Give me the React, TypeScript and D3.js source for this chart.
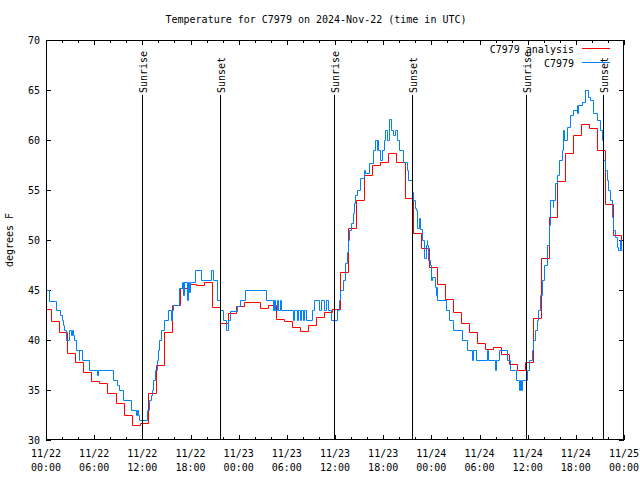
import React from "react";
import * as d3 from "d3";

const TITLE = "Temperature for C7979 on 2024-Nov-22 (time in UTC)";
const Y_LABEL = "degrees F";
const SERIES_NAMES = ["C7979 analysis", "C7979"];

// x ticks (hours since 2024-11-22 00:00 UTC)
const X_TICK_HOURS = [0, 6, 12, 18, 24, 30, 36, 42, 48, 54, 60, 66, 72];
const X_TICK_DATES = ["11/22", "11/22", "11/22", "11/22", "11/23", "11/23", "11/23", "11/23", "11/24", "11/24", "11/24", "11/24", "11/25"];
const X_TICK_TIMES = ["00:00", "06:00", "12:00", "18:00", "00:00", "06:00", "12:00", "18:00", "00:00", "06:00", "12:00", "18:00", "00:00"];
const Y_TICKS = [30, 35, 40, 45, 50, 55, 60, 65, 70];

// sun events (hours)
const EVENT_HOURS = [11.95, 21.65, 35.85, 45.63, 59.75, 69.35];
const EVENT_NAMES = ["Sunrise", "Sunset", "Sunrise", "Sunset", "Sunrise", "Sunset"];

// analysis: hourly values, first valid at hour -0.34
const ANALYSIS_OFFSET = -0.34;
const ANALYSIS = [
  43.1, 41.9, 40.8, 38.7, 37.8, 36.8, 35.9, 35.7, 34.7, 33.7, 32.5, 31.5,
  31.7, 34.7, 37.5, 40.8, 43.5, 45.2, 45.6, 45.5, 45.8, 43.3, 41.7, 42.7,
  43.4, 43.8, 43.8, 43.2, 43.5, 42.1, 41.9, 41.3, 40.9, 41.5, 42.3, 42.8,
  43.1, 46.8, 51.2, 54.0, 56.5, 57.5, 57.8, 58.7, 57.8, 54.2, 50.7, 49.2,
  47.3, 45.6, 44.1, 42.8, 41.7, 40.8, 39.7, 39.1, 39.3, 38.6, 37.6, 37.0,
  37.8, 42.2, 48.2, 52.3, 55.9, 58.7, 60.5, 61.6, 61.2, 59.0, 53.6, 50.5,
  49.4,
];

// observations: change points
const OBS_HOURS = [
  0, 0.41, 1.25, 1.74, 1.99, 2.15, 2.28, 2.49, 2.83, 3.11, 3.24, 3.40, 3.52, 3.74, 4.05, 4.17, 4.52,
  5.35, 6.35, 6.48, 8.38, 8.88, 9.09, 9.55, 10.62, 11.21, 11.30, 11.46, 11.58, 12.62, 12.83, 13.08,
  13.24, 13.36, 13.57, 13.79, 13.99, 14.11, 14.28, 14.69, 15.23, 15.53, 15.69, 15.85, 16.60, 16.90,
  17.06, 17.19, 17.52, 17.65, 17.81, 17.93, 18.56, 19.27, 20.55, 20.76, 21.26, 21.67, 22.00, 22.42,
  22.70, 22.91, 23.75, 24.16, 24.78, 27.36, 28.31, 28.46, 28.58, 28.77, 28.95, 29.14, 29.27, 30.80,
  30.95, 31.26, 31.38, 31.63, 31.76, 32.00, 32.13, 32.38, 33.09, 33.41, 34.00, 34.25, 34.62, 34.87,
  35.16, 35.49, 36.20, 36.45, 36.61, 36.95, 37.24, 37.45, 37.57, 37.70, 37.95, 38.19, 38.36, 38.52,
  38.77, 39.10, 39.64, 39.76, 40.22, 40.76, 41.01, 41.18, 41.26, 41.31, 41.59, 41.84, 42.13, 42.22,
  42.50, 42.68, 42.96, 43.25, 43.50, 43.67, 43.96, 44.50, 44.99, 45.12, 45.54, 45.74, 45.95, 46.08,
  46.24, 46.49, 46.61, 46.79, 47.07, 47.32, 47.41, 47.48, 47.61, 47.82, 47.95, 48.03, 48.44, 48.53,
  48.59, 48.65, 49.81, 50.19, 50.65, 51.77, 52.39, 53.01, 53.18, 53.55, 54.96, 55.08, 55.92, 56.00,
  56.45, 57.37, 57.78, 58.53, 58.90, 59.03, 59.15, 59.24, 59.86, 60.19, 60.49, 60.71, 60.90, 61.15,
  61.31, 61.52, 61.73, 62.02, 62.35, 62.68, 62.76, 63.10, 63.17, 63.39, 63.60, 63.92, 64.22, 64.42,
  64.55, 64.84, 65.26, 65.67, 66.09, 66.16, 66.25, 66.71, 67.12, 67.53, 67.75, 68.16, 68.58, 68.99,
  69.20, 69.33, 69.61, 69.83, 70.02, 70.24, 70.45, 70.65, 70.86, 71.07, 71.27, 71.48, 71.61, 71.79,
];
const OBS_VALUES = [
  45.0, 43.9, 43.0, 42.5, 42.0, 41.5, 41.0, 40.0, 41.0, 40.5, 41.0, 40.5, 40.0, 39.0, 38.0, 39.0, 38.0,
  37.0, 36.5, 37.0, 36.0, 35.5, 35.0, 34.0, 33.0, 32.5, 33.0, 32.5, 32.0, 33.0, 34.0, 34.5,
  35.0, 36.0, 37.0, 38.0, 39.0, 40.0, 41.0, 42.0, 43.0, 42.0, 43.0, 43.5, 45.2, 45.8,
  44.5, 45.8, 44.0, 45.8, 44.8, 45.8, 47.0, 46.0, 47.0, 46.0, 44.0, 43.0, 42.0, 41.0,
  42.0, 42.9, 43.4, 44.0, 45.0, 44.0, 43.0, 44.0, 43.0, 44.0, 43.0, 44.0, 43.0, 42.0,
  43.0, 42.0, 43.0, 42.0, 43.0, 42.0, 43.0, 42.0, 43.0, 44.0, 43.0, 44.0, 43.0, 44.0,
  43.0, 42.0, 43.0, 44.0, 45.0, 46.0, 47.7, 48.8, 50.0, 51.0, 51.7, 52.7, 53.7, 54.5,
  55.0, 56.2, 57.0, 56.7, 57.7, 59.0, 60.0, 59.0, 60.0, 59.0, 58.0, 59.0, 60.0, 61.0,
  60.0, 62.1, 61.0, 60.5, 61.0, 60.0, 59.0, 57.8, 57.0, 56.0, 54.8, 54.0, 53.2, 53.0,
  51.2, 52.2, 51.1, 50.0, 48.2, 49.5, 50.0, 49.5, 48.0, 47.5, 46.0, 46.3, 45.3, 44.5,
  45.3, 44.0, 43.0, 42.0, 41.0, 40.0, 39.0, 38.0, 39.0, 38.0, 39.0, 38.0, 37.0, 38.0,
  39.0, 38.0, 37.0, 36.0, 35.0, 36.0, 35.0, 36.0, 37.0, 38.0, 39.0, 40.0, 41.0, 42.0,
  43.0, 44.5, 46.0, 47.5, 49.5, 51.5, 54.0, 53.3, 54.0, 55.7, 56.5, 58.0, 59.0, 61.0,
  60.0, 61.3, 62.5, 63.0, 63.5, 62.7, 63.5, 63.8, 65.0, 64.3, 64.0, 62.7, 62.0, 61.0,
  60.0, 58.0, 57.0, 56.0, 55.0, 54.0, 52.3, 51.0, 50.3, 49.3, 49.0, 50.0, 49.0, 49.0,
];

const W = 640;
const H = 480;
const M = { left: 46, right: 624, top: 40, bottom: 440 };
const FONT = "'DejaVu Sans Mono', monospace";
const RED = "#ff0000";
const BLUE = "#0080ff";

export default function App() {
  const x = d3.scaleLinear().domain([0, 72]).range([M.left, M.right]);
  const y = d3.scaleLinear().domain([30, 70]).range([M.bottom, M.top]);

  const analysisPts: [number, number][] = ANALYSIS.map((v, i) => [i + ANALYSIS_OFFSET, v]);
  const obsPts: [number, number][] = OBS_HOURS.map((h, i) => [h, OBS_VALUES[i]]);

  const line = d3
    .line<[number, number]>()
    .x((d) => Math.round(x(d[0])) + 0.5)
    .y((d) => Math.round(y(d[1])) + 0.5)
    .curve(d3.curveStepAfter);

  const minorHours = d3.range(0, 73, 2).filter((h) => h % 6 !== 0);
  const px = (v: number) => Math.round(v) + 0.5;

  return (
    <svg width={W} height={H} style={{ position: "absolute", left: 0, top: 0, background: "#fff" }} fontFamily={FONT} fontSize={10}>
      <rect x={0} y={0} width={W} height={H} fill="#fff" />
      <defs>
        <clipPath id="plot">
          <rect x={M.left} y={M.top} width={M.right - M.left} height={M.bottom - M.top} />
        </clipPath>
      </defs>
      <text x={316} y={23} textAnchor="middle" fill="#000">{TITLE}</text>
      <text transform={`translate(13,${(M.top + M.bottom) / 2}) rotate(-90)`} textAnchor="middle" fill="#000">{Y_LABEL}</text>

      {/* y ticks */}
      {Y_TICKS.map((t) => (
        <g key={"y" + t}>
          <line x1={M.left} x2={M.left + 5} y1={px(y(t))} y2={px(y(t))} stroke="#000" />
          <line x1={M.right - 5} x2={M.right} y1={px(y(t))} y2={px(y(t))} stroke="#000" />
          <text x={M.left - 6} y={y(t) + 4} textAnchor="end" fill="#000">{t}</text>
        </g>
      ))}
      {/* x ticks */}
      {X_TICK_HOURS.map((h, i) => (
        <g key={"x" + h}>
          <line x1={px(x(h))} x2={px(x(h))} y1={M.bottom} y2={M.bottom - 5} stroke="#000" />
          <line x1={px(x(h))} x2={px(x(h))} y1={M.top} y2={M.top + 5} stroke="#000" />
          <text x={x(h)} y={M.bottom + 17} textAnchor="middle" fill="#000">{X_TICK_DATES[i]}</text>
          <text x={x(h)} y={M.bottom + 31} textAnchor="middle" fill="#000">{X_TICK_TIMES[i]}</text>
        </g>
      ))}
      {minorHours.map((h) => (
        <g key={"m" + h}>
          <line x1={px(x(h))} x2={px(x(h))} y1={M.bottom} y2={M.bottom - 3} stroke="#000" />
          <line x1={px(x(h))} x2={px(x(h))} y1={M.top} y2={M.top + 3} stroke="#000" />
        </g>
      ))}

      <g clipPath="url(#plot)">
        <path d={line(analysisPts) || ""} fill="none" stroke={RED} strokeWidth={1} />
        <path d={line(obsPts) || ""} fill="none" stroke={BLUE} strokeWidth={1} />
      </g>

      {/* sun events */}
      {EVENT_HOURS.map((h, i) => (
        <g key={"e" + i}>
          <line x1={px(x(h))} x2={px(x(h))} y1={95} y2={M.bottom} stroke="#000" />
          <text transform={`translate(${px(x(h)) + 4},93) rotate(-90)`} textAnchor="start" fill="#000">{EVENT_NAMES[i]}</text>
        </g>
      ))}

      {/* legend */}
      <text x={574} y={53} textAnchor="end" fill="#000">{SERIES_NAMES[0]}</text>
      <line x1={582} x2={610} y1={48.5} y2={48.5} stroke={RED} />
      <text x={574} y={67} textAnchor="end" fill="#000">{SERIES_NAMES[1]}</text>
      <line x1={582} x2={610} y1={62.5} y2={62.5} stroke={BLUE} />

      <rect x={M.left + 0.5} y={M.top + 0.5} width={M.right - M.left - 1} height={M.bottom - M.top - 1} fill="none" stroke="#000" />
    </svg>
  );
}
